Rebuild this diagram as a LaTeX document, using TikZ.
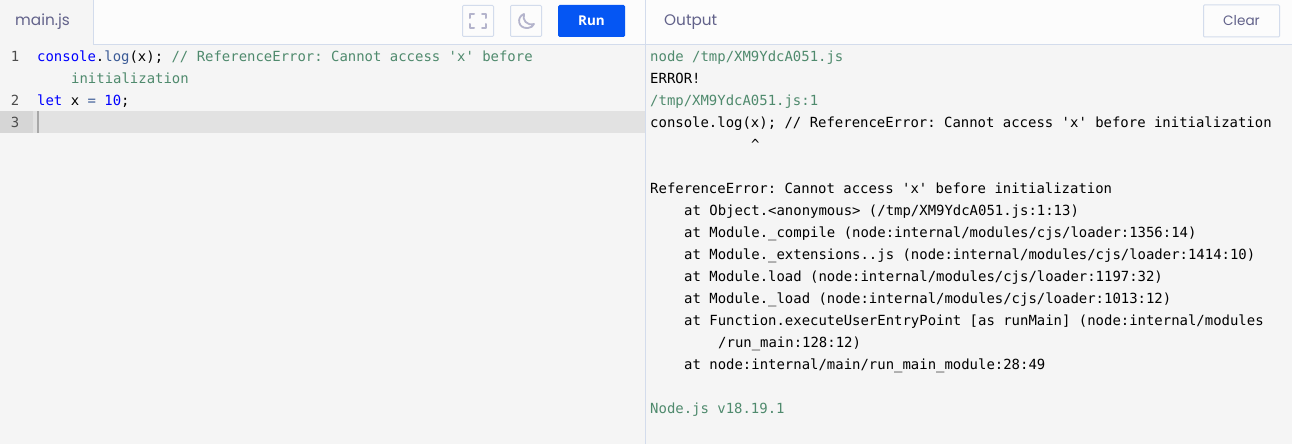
\documentclass[tikz,border=0pt]{standalone}
\usepackage{fontspec}
\setmonofont{DejaVu Sans Mono}
\setsansfont{Poppins}
\newfontfamily\runfont{Open Sans}
\definecolor{paneback}{HTML}{F5F5F5}
\definecolor{headback}{HTML}{FCFCFC}
\definecolor{paneline}{HTML}{D3DCEC}
\definecolor{curline}{HTML}{E2E2E2}
\definecolor{curgutter}{HTML}{D6D6D6}
\definecolor{cursorbar}{HTML}{A8A8A8}
\definecolor{labelink}{HTML}{62628A}
\definecolor{iconink}{HTML}{B4B4CC}
\definecolor{commentink}{HTML}{4F8A6D}
\definecolor{keyink}{HTML}{0000FF}
\definecolor{propink}{HTML}{3A5A96}
\definecolor{runblue}{HTML}{0556F3}
\newcommand{\cmt}[1]{\textcolor{commentink}{#1}}
\newcommand{\kw}[1]{\textcolor{keyink}{#1}}
\begin{document}
\begin{tikzpicture}[
        x = 1pt,
        y = -1pt,
        code/.style = {anchor = base west, inner sep = 0, font = \ttfamily\fontsize{13.95}{14}\selectfont},
        gutter/.style = {anchor = base, inner sep = 0, text = black!70, font = \ttfamily\fontsize{13.95}{14}\selectfont},
        tab/.style = {anchor = base west, inner sep = 0, text = labelink, font = \sffamily\fontsize{15.3}{15}\selectfont},
        iconbox/.style = {draw = paneline, fill = headback, rounded corners = 1, line width = 1, minimum width = 31, minimum height = 31, inner sep = 0},
        iconline/.style = {draw = iconink, line width = 2, line cap = round, line join = round}
      ]
      \useasboundingbox (0, 0) rectangle (1292, 444);
      % panes
      \fill[paneback] (0, 0) rectangle (1292, 444);
      \fill[headback] (93, 0) rectangle (1292, 44);
      \fill[headback] (646, 0) rectangle (1292, 44);
      \fill[curline] (0, 111) rectangle (645, 133);
      \fill[curgutter] (0, 111) rectangle (33, 133);
      \fill[cursorbar] (37, 111) rectangle (39, 133);
      \draw[paneline] (93, 0) -- (93, 44.5) -- (1292, 44.5);
      \draw[paneline] (645.5, 0) -- (645.5, 444);
      % header
      \node[tab] (mainjs) at (15, 26) {main.js};
      \node[tab] (output) at (664, 26) {Output};
      \node[iconbox] (full) at (478, 21) {};
      \node[iconbox] (moon) at (526, 21) {};
      \node[fill = runblue, rounded corners = 1.5, minimum width = 67, minimum height = 32, inner sep = 0, text = white, font = \runfont\bfseries\fontsize{13.5}{14}\selectfont] (run) at (591.5, 21) {Run};
      \node[draw = paneline, fill = headback, rounded corners = 1, line width = 1, minimum width = 76, minimum height = 32, inner sep = 0, text = labelink, font = \sffamily\fontsize{13.6}{14}\selectfont] (clear) at (1241.5, 21) {Clear};
      % icons
      \draw[iconline] (470, 18) -- (470, 14) -- (474, 14);
      \draw[iconline] (482, 14) -- (486, 14) -- (486, 18);
      \draw[iconline] (486, 24) -- (486, 28) -- (482, 28);
      \draw[iconline] (474, 28) -- (470, 28) -- (470, 24);
      \draw[draw = iconink, line width = 1.8, line join = round] (524, 14) .. controls (516, 17) and (518, 29) .. (528, 28) .. controls (531, 28) and (533, 26) .. (534, 24) .. controls (527, 26) and (522, 20) .. (524, 14) -- cycle;
      % line numbers
      \node[gutter] (n1) at (15, 61) {1};
      \node[gutter] (n2) at (15, 105) {2};
      \node[gutter] (n3) at (15, 127) {3};
      % editor
      \node[code] (c1) at (37, 61) {\kw{console}.\textcolor{propink}{log}(x); \cmt{// ReferenceError: Cannot access 'x' before}};
      \node[code] (c2) at (71, 83) {\cmt{initialization}};
      \node[code] (c3) at (37, 105) {\kw{let} x \textcolor{propink}{=} \kw{10};};
      % terminal
      \node[code] (t1)  at (650, 61)  {\cmt{node /tmp/XM9YdcA051.js}};
      \node[code] (t2)  at (650, 83)  {ERROR!};
      \node[code] (t3)  at (650, 105) {\cmt{/tmp/XM9YdcA051.js:1}};
      \node[code] (t4)  at (650, 127) {console.log(x); // ReferenceError: Cannot access 'x' before initialization};
      \node[code] (t5)  at (751, 149) {\string^};
      \node[code] (t6)  at (650, 193) {ReferenceError: Cannot access 'x' before initialization};
      \node[code] (t7)  at (684, 215) {at Object.<anonymous> (/tmp/XM9YdcA051.js:1:13)};
      \node[code] (t8)  at (684, 237) {at Module.\_compile (node:internal/modules/cjs/loader:1356:14)};
      \node[code] (t9)  at (684, 259) {at Module.\_extensions..js (node:internal/modules/cjs/loader:1414:10)};
      \node[code] (t10) at (684, 281) {at Module.load (node:internal/modules/cjs/loader:1197:32)};
      \node[code] (t11) at (684, 303) {at Module.\_load (node:internal/modules/cjs/loader:1013:12)};
      \node[code] (t12) at (684, 325) {at Function.executeUserEntryPoint [as runMain] (node:internal/modules};
      \node[code] (t13) at (718, 347) {/run\_main:128:12)};
      \node[code] (t14) at (684, 369) {at node:internal/main/run\_main\_module:28:49};
      \node[code] (t15) at (650, 413) {\cmt{Node.js v18.19.1}};
    \end{tikzpicture}
\end{document}
